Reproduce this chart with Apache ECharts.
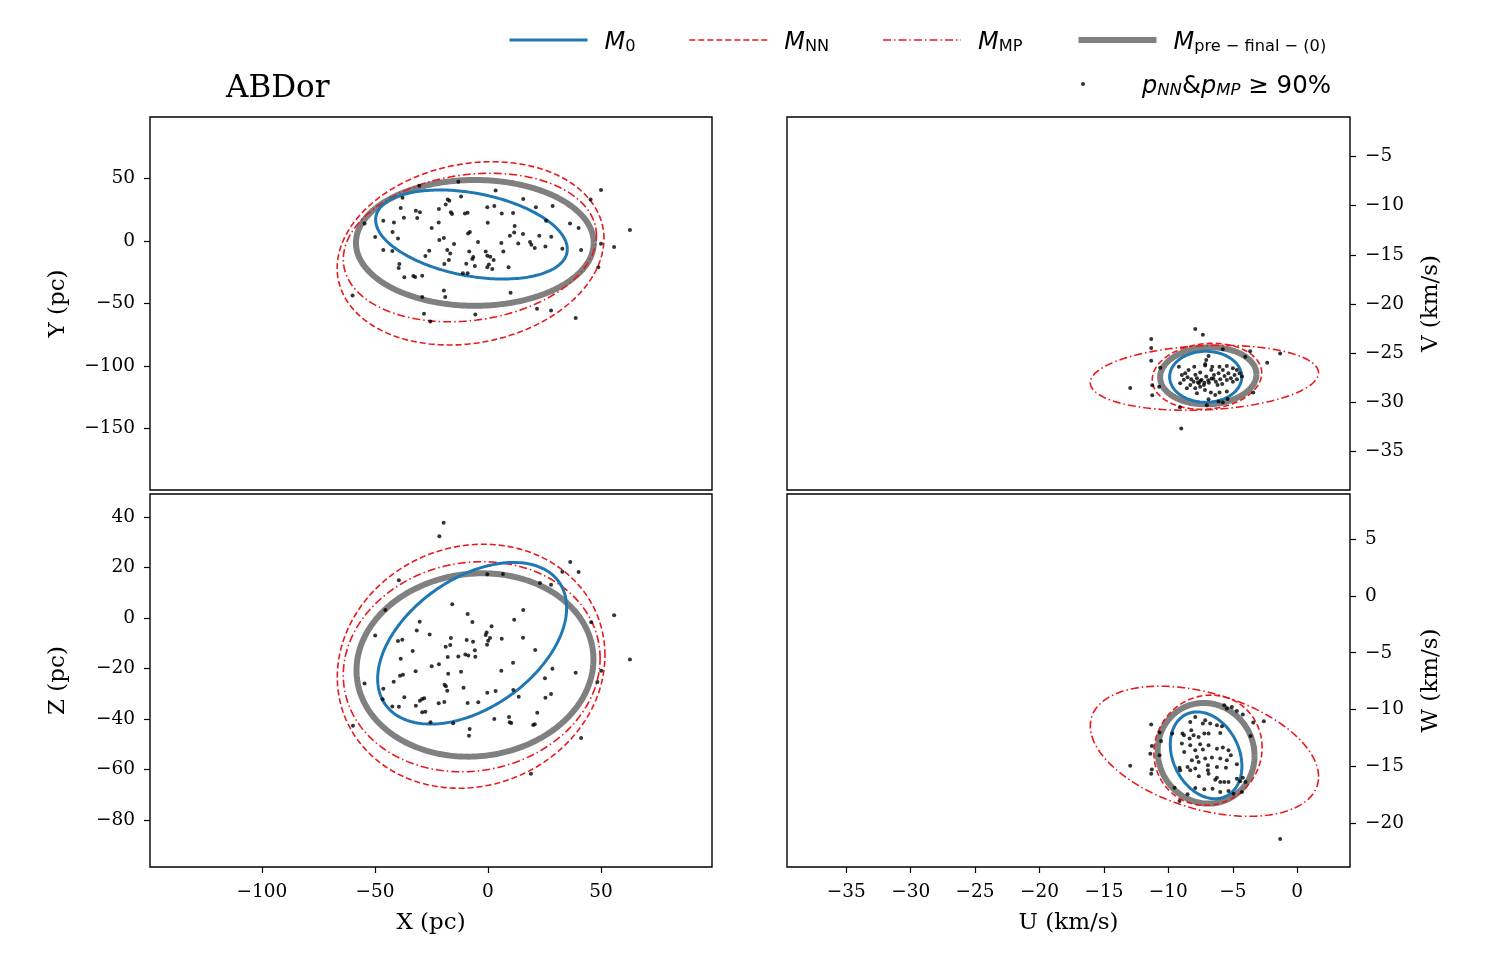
<!DOCTYPE html>
<html>
<head>
<meta charset="utf-8">
<script src="https://cdn.jsdelivr.net/npm/echarts@6/dist/echarts.min.js"></script>
<style>
  html, body { margin: 0; padding: 0; background: #fff; }
  #main { width: 1500px; height: 975px; }
</style>
</head>
<body>
<div id="main"></div>
<script>
// axis limits (data units)
var xRange = [-149.5, 99.1];
var yRange = [-199.2, 99.2];
var zRange = [-98.6, 49.1];
var uRange = [-39.6, 4.1];
var vRange = [-38.9, -1.0];
var wRange = [-23.9, 9.0];

// tick labels
var xTicks = [-100, -50, 0, 50];
var yTicks = [50, 0, -50, -100, -150];
var zTicks = [40, 20, 0, -20, -40, -60, -80];
var uTicks = [-35, -30, -25, -20, -15, -10, -5, 0];
var vTicks = [-5, -10, -15, -20, -25, -30, -35];
var wTicks = [5, 0, -5, -10, -15, -20];

// ellipse order: M0, MNN, MMP, Mpre ; each = [centre x, centre y, sigma x, sigma y, correlation]
var ellipseNames = ['M0', 'MNN', 'MMP', 'Mpre'];
var xyEllipses = [
  [-7.3, 5.2, 42.4, 35.6, -0.33],
  [-7.7, -9.9, 59.0, 73.3, 0.16],
  [-8.0, -5.2, 56.0, 59.4, 0.16],
  [-5.8, -1.5, 52.6, 50.3, 0.0]
];
var xzEllipses = [
  [-7.0, -10.0, 41.8, 32.0, 0.44],
  [-7.45, -19.1, 59.2, 48.3, 0.09],
  [-7.2, -19.3, 56.8, 41.6, 0.08],
  [-5.75, -18.6, 52.4, 36.3, 0.06]
];
var uvEllipses = [
  [-7.1, -27.4, 2.8, 2.59, 0.0],
  [-7.0, -27.35, 4.25, 3.35, 0.1],
  [-7.2, -27.5, 8.86, 3.3, 0.15],
  [-6.9, -27.3, 3.74, 2.9, 0.05]
];
var uwEllipses = [
  [-7.07, -14.05, 2.78, 3.83, -0.25],
  [-6.92, -13.6, 4.2, 4.86, 0.05],
  [-7.2, -13.69, 8.86, 5.74, -0.39],
  [-7.07, -13.87, 3.76, 4.44, -0.05]
];

// stars with p_NN & p_MP >= 90%
var xyPoints = [
  [-13.1,47.4],[-30.4,44.2],[3.4,40.5],[50.0,40.8],[15.6,33.6],[45.4,33.3],[-37.8,34.7],[-17.8,33.3],
  [-17.1,32.2],[-11.9,35.7],[-18.7,29.3],[-0.3,27.0],[2.8,28.0],[-38.6,26.4],[-31.9,24.3],[-30.1,23.0],
  [-21.7,25.6],[-16.4,23.0],[-15.9,21.6],[-10.2,22.1],[-9.0,22.7],[6.1,22.1],[11.1,22.4],[21.2,27.0],
  [28.6,28.0],[-46.3,16.3],[-37.2,18.7],[-31.3,18.4],[-41.6,14.9],[-54.6,14.1],[-21.8,14.9],[-0.1,14.7],
  [25.7,16.3],[36.3,14.1],[40.1,10.4],[11.8,12.0],[-24.9,10.4],[-42.2,7.2],[-8.0,7.2],[-8.8,6.1],
  [11.6,6.9],[9.7,4.2],[15.5,5.6],[22.7,4.2],[28.0,3.5],[62.8,8.8],[-49.9,3.2],[-39.8,2.1],
  [-19.5,2.4],[-21.5,0.8],[-15.0,-2.4],[-4.4,-0.8],[5.9,-1.6],[13.4,-1.9],[18.6,-0.8],[19.2,-2.9],
  [20.7,-5.6],[25.4,-4.3],[32.9,-6.1],[41.2,-7.2],[50.0,-2.1],[55.8,-4.8],[-46.3,-7.2],[-42.3,-8.0],
  [-26.0,-7.7],[-18.0,-7.2],[-8.3,-8.3],[-1.0,-8.3],[-0.3,-11.7],[1.0,-12.5],[2.5,-15.2],[0.4,-18.7],
  [-0.3,-21.0],[1.9,-22.4],[6.8,-8.3],[9.1,-21.0],[-27.7,-12.0],[-16.7,-9.9],[-6.5,-12.8],[-6.9,-14.4],
  [-17.3,-15.2],[-19.3,-18.4],[-39.2,-18.4],[-39.5,-21.6],[-9.6,-18.1],[-5.8,-20.0],[-11.1,-25.8],[-9.0,-25.8],
  [-37.0,-29.0],[-33.0,-28.0],[-32.2,-28.8],[-29.1,-27.7],[-19.5,-39.5],[-18.9,-44.8],[-29.1,-44.8],[-59.9,-43.5],
  [10.0,-41.3],[-28.3,-58.1],[-25.5,-64.3],[-5.6,-58.7],[21.7,-54.1],[27.9,-55.5],[38.8,-61.6],[48.8,-21.0]
];
var xzPoints = [
  [-19.6,37.7],[-21.5,32.4],[36.4,22.2],[32.9,18.3],[40.1,18.2],[-39.4,14.9],[-0.3,17.3],[6.6,17.4],
  [23.0,13.9],[27.9,13.2],[-45.4,3.2],[-15.8,5.4],[15.6,3.2],[-9.0,1.6],[-6.9,-1.6],[-30.2,-1.5],
  [11.6,-0.7],[55.8,1.1],[45.7,-1.7],[1.6,-3.3],[-0.6,-5.7],[-1.0,-6.7],[0.1,-9.0],[0.9,-7.9],
  [-0.4,-10.6],[-31.5,-5.0],[-25.8,-6.5],[-49.9,-6.9],[-16.4,-7.9],[-18.7,-11.4],[-16.7,-10.7],[-9.4,-8.7],
  [-6.6,-9.4],[6.1,-8.2],[15.5,-7.8],[-39.8,-9.1],[-37.9,-8.6],[-33.3,-13.1],[-17.8,-15.4],[-13.1,-15.2],
  [-10.0,-14.5],[-8.7,-14.9],[-5.8,-12.8],[-5.6,-15.3],[20.9,-12.7],[-38.6,-16.1],[-21.7,-18.3],[-24.9,-19.1],
  [11.1,-17.7],[62.8,-16.4],[-32.0,-21.1],[-17.6,-22.1],[-11.9,-21.3],[5.9,-20.9],[28.5,-20.1],[38.8,-21.7],
  [50.1,-20.9],[48.4,-25.3],[-38.9,-22.9],[-37.6,-22.5],[-54.6,-25.9],[-41.7,-25.2],[-19.2,-26.4],[-18.6,-27.0],
  [-18.0,-28.8],[-10.8,-27.6],[25.2,-23.9],[-46.3,-28.0],[11.2,-28.5],[3.4,-28.9],[-0.3,-29.6],[13.6,-31.2],
  [27.9,-30.1],[25.4,-31.6],[-37.0,-31.4],[-29.1,-32.1],[-28.2,-31.8],[-30.1,-32.8],[-46.6,-32.2],[-31.9,-34.7],
  [-21.8,-33.8],[-19.3,-33.3],[-9.0,-33.7],[-4.3,-33.4],[-42.3,-35.0],[-39.4,-35.1],[-29.1,-37.3],[-27.7,-37.1],
  [21.8,-37.5],[2.8,-40.0],[9.3,-39.2],[9.6,-41.3],[10.3,-41.6],[20.7,-42.1],[20.0,-42.4],[-25.4,-41.3],
  [-15.4,-41.7],[-59.7,-42.7],[-8.1,-44.0],[-8.4,-46.6],[41.2,-47.5],[19.0,-61.7]
];
var uvPoints = [
  [-7.91,-22.55],[-7.32,-23.12],[-11.33,-23.56],[-11.33,-24.47],[-11.33,-25.76],[-10.63,-26.47],[-12.96,-28.53],
  [-11.25,-28.26],[-10.71,-28.40],[-11.25,-29.27],[-9.10,-30.49],[-9.00,-32.66],[-1.32,-25.02],[-2.33,-25.96],
  [-3.65,-24.81],[-4.03,-25.35],[-3.41,-29.00],[-7.06,-25.69],[-6.88,-25.28],[-7.14,-26.26],[-6.67,-26.70],
  [-5.77,-24.61],[-9.18,-26.37],[-8.95,-27.21],[-8.69,-27.04],[-8.51,-27.45],[-8.22,-27.65],[-8.04,-27.89],
  [-7.78,-27.55],[-7.63,-28.06],[-7.42,-27.72],[-7.24,-28.23],[-7.06,-27.38],[-6.85,-27.99],[-6.65,-27.58],
  [-6.46,-27.21],[-6.31,-27.89],[-6.10,-27.04],[-5.97,-27.65],[-5.77,-26.70],[-5.64,-27.31],[-5.46,-27.72],
  [-5.34,-27.04],[-5.15,-27.55],[-4.99,-27.89],[-4.86,-27.21],[-4.68,-27.65],[-4.47,-27.04],[-4.29,-27.38],
  [-8.30,-28.23],[-7.91,-28.56],[-7.53,-28.40],[-7.16,-28.73],[-7.78,-29.07],[-6.70,-29.00],[-6.36,-29.24],
  [-6.03,-29.00],[-5.46,-28.90],[-6.18,-28.23],[-5.82,-28.12],[-8.43,-26.70],[-7.99,-26.37],[-7.53,-26.97],
  [-7.14,-26.10],[-6.59,-26.37],[-6.03,-26.37],[-5.46,-26.30],[-4.99,-26.53],[-4.68,-26.70],[-9.08,-28.06],
  [-8.56,-28.56],[-6.88,-29.68],[-6.10,-29.92],[-5.77,-30.02],[-7.01,-30.29],[-5.40,-29.65],[-7.50,-27.80],
  [-7.20,-28.00],[-6.50,-27.60],[-7.90,-27.20],[-8.80,-27.70],[-6.90,-27.75],[-7.70,-27.95]
];
var uwPoints = [
  [-5.66,-9.63],[-5.46,-9.92],[-5.07,-9.78],[-4.68,-10.13],[-4.22,-10.45],[-3.41,-11.16],[-2.59,-11.04],
  [-7.91,-10.66],[-8.30,-11.10],[-7.32,-11.25],[-7.14,-10.95],[-6.75,-11.25],[-6.23,-11.40],[-5.84,-11.48],
  [-11.33,-11.34],[-10.68,-12.04],[-9.70,-12.13],[-8.79,-12.28],[-8.35,-12.57],[-8.04,-12.28],[-7.65,-12.43],
  [-6.88,-12.13],[-5.97,-12.07],[-3.62,-12.34],[-10.57,-12.78],[-11.28,-13.22],[-11.40,-13.90],[-10.68,-14.05],
  [-8.95,-13.01],[-8.30,-13.16],[-7.53,-13.07],[-6.88,-13.16],[-6.23,-13.46],[-5.77,-13.37],[-5.33,-13.60],
  [-7.91,-13.60],[-7.32,-13.54],[-8.77,-13.75],[-7.78,-14.19],[-7.14,-14.34],[-6.62,-14.25],[-5.97,-14.34],
  [-5.46,-14.49],[-8.17,-14.49],[-7.65,-14.64],[-4.68,-14.84],[-5.15,-14.05],[-12.96,-14.96],[-11.28,-15.31],
  [-11.33,-15.67],[-9.13,-15.14],[-8.51,-15.08],[-8.30,-15.37],[-7.91,-15.22],[-6.93,-14.93],[-6.23,-15.08],
  [-5.53,-15.14],[-9.08,-15.37],[-7.63,-15.90],[-6.88,-15.67],[-6.23,-16.02],[-6.93,-15.37],[-6.36,-16.20],
  [-5.97,-16.40],[-5.66,-16.40],[-5.33,-16.40],[-4.68,-16.11],[-4.42,-16.34],[-4.22,-16.02],[-4.01,-16.40],
  [-7.91,-16.93],[-7.21,-17.05],[-6.57,-16.99],[-5.97,-17.29],[-5.33,-17.20],[-4.94,-17.43],[-4.29,-17.29],
  [-9.52,-16.90],[-9.13,-18.08],[-8.51,-17.49],[-1.32,-21.44],[-8.22,-11.84],[-7.21,-12.13],[-8.90,-12.13]
];

var SERIF = 'DejaVu Serif';
var RED = '#e8191c';
var lineStyles = {
  M0: { color: '#1f77b4', width: 3, type: 'solid' },
  MNN: { color: RED, width: 1.6, type: [6, 3] },
  MMP: { color: RED, width: 1.6, type: [8, 3, 1.5, 3] },
  Mpre: { color: '#808080', width: 6, type: 'solid' }
};
var lineZ = { M0: 4, MNN: 3, MMP: 3, Mpre: 2 };

function ellipse(p) {
  var pts = [];
  var s = Math.sqrt(1 - p[4] * p[4]);
  for (var k = 0; k <= 240; k++) {
    var t = 2 * Math.PI * k / 240;
    pts.push([p[0] + p[2] * Math.cos(t), p[1] + p[3] * (p[4] * Math.cos(t) + s * Math.sin(t))]);
  }
  return pts;
}

function minus(v) { return String(v).replace('-', '\u2212'); }

function xAx(gi, range, ticks, name) {
  return {
    type: 'value', gridIndex: gi, min: range[0], max: range[1],
    splitLine: { show: false }, axisLine: { show: false, onZero: false },
    axisTick: { show: !!name, customValues: ticks, length: 6, inside: false, lineStyle: { color: '#000', width: 1.2 } },
    axisLabel: { show: !!name, customValues: ticks, formatter: minus, margin: 16, color: '#000', fontFamily: SERIF, fontSize: 18.5 },
    name: name || '', nameLocation: 'middle', nameGap: 45,
    nameTextStyle: { fontFamily: SERIF, fontSize: 23, color: '#000' }
  };
}
function yAx(gi, range, ticks, name, pos) {
  return {
    type: 'value', gridIndex: gi, min: range[0], max: range[1], position: pos,
    splitLine: { show: false }, axisLine: { show: false, onZero: false },
    axisTick: { show: true, customValues: ticks, length: 6, inside: false, lineStyle: { color: '#000', width: 1.2 } },
    axisLabel: { customValues: ticks, formatter: minus, margin: 15, color: '#000', fontFamily: SERIF, fontSize: 18.5 },
    name: name, nameLocation: 'middle', nameRotate: 90, nameGap: pos === 'left' ? 80 : 70,
    nameTextStyle: { fontFamily: SERIF, fontSize: 23, color: '#000' }
  };
}

var gridBox = { show: true, borderColor: '#000', borderWidth: 1.4, backgroundColor: 'transparent' };
var grids = [
  Object.assign({ left: 150, top: 117, width: 562, height: 373 }, gridBox),
  Object.assign({ left: 150, top: 494, width: 562, height: 373 }, gridBox),
  Object.assign({ left: 787, top: 117, width: 563, height: 373 }, gridBox),
  Object.assign({ left: 787, top: 494, width: 563, height: 373 }, gridBox)
];

var panelEllipses = [xyEllipses, xzEllipses, uvEllipses, uwEllipses];
var panelPoints = [xyPoints, xzPoints, uvPoints, uwPoints];

var series = [];
panelEllipses.forEach(function (ells, gi) {
  ells.forEach(function (p, j) {
    var nm = ellipseNames[j];
    series.push({
      name: nm, type: 'line', xAxisIndex: gi, yAxisIndex: gi,
      data: ellipse(p), symbol: 'none', showSymbol: false, smooth: false,
      lineStyle: lineStyles[nm], itemStyle: { color: lineStyles[nm].color },
      z: lineZ[nm], silent: true, animation: false
    });
  });
  series.push({
    name: 'p90', type: 'scatter', xAxisIndex: gi, yAxisIndex: gi,
    data: panelPoints[gi], symbol: 'circle', symbolSize: 4,
    itemStyle: { color: '#000' }, z: 6, silent: true, animation: false
  });
});

var legendText = {
  M0: '{g|}{i|M}{s|0}',
  MNN: '{g|}{i|M}{s|NN}',
  MMP: '{g|}{i|M}{s|MP}',
  Mpre: '{g|}{i|M}{s|pre \u2212 final \u2212 (0)}',
  p90: '{w|}{i|p}{si|NN}{n|&}{i|p}{si|MP}{n| \u2265 90%}'
};
var legendRich = {
  g: { width: 12 },
  w: { width: 52 },
  i: { fontFamily: 'DejaVu Sans', fontStyle: 'italic', fontSize: 24, color: '#000', lineHeight: 30, verticalAlign: 'bottom' },
  s: { fontFamily: 'DejaVu Sans', fontSize: 16.2, color: '#000', lineHeight: 12, verticalAlign: 'bottom' },
  si: { fontFamily: 'DejaVu Sans', fontStyle: 'italic', fontSize: 16.5, color: '#000', lineHeight: 12, verticalAlign: 'bottom' },
  n: { fontFamily: 'DejaVu Sans', fontSize: 24.5, color: '#000', lineHeight: 30, verticalAlign: 'bottom' }
};
var legendLines = ellipseNames.map(function (nm) {
  return {
    name: nm,
    lineStyle: { color: lineStyles[nm].color, width: lineStyles[nm].width, type: lineStyles[nm].type }
  };
});

var chart = echarts.init(document.getElementById('main'), null, { renderer: 'canvas' });
chart.setOption({
  animation: false,
  backgroundColor: '#fff',
  title: {
    text: 'ABDor', left: 221, top: 68,
    textStyle: { fontFamily: SERIF, fontSize: 31, fontWeight: 'normal', color: '#000' }
  },
  legend: [
    {
      data: legendLines, left: 508, top: 31, padding: 0, orient: 'horizontal',
      itemWidth: 78, itemHeight: 14, itemGap: 53, selectedMode: false,
      itemStyle: { opacity: 0 },
      formatter: function (n) { return legendText[n]; },
      textStyle: { rich: legendRich }
    },
    {
      data: ['p90'], left: 1081, top: 74, padding: 0, itemWidth: 4, itemHeight: 4, selectedMode: false,
      formatter: function (n) { return legendText[n]; },
      textStyle: { rich: legendRich }
    }
  ],
  grid: grids,
  xAxis: [
    xAx(0, xRange, xTicks, null),
    xAx(1, xRange, xTicks, 'X (pc)'),
    xAx(2, uRange, uTicks, null),
    xAx(3, uRange, uTicks, 'U (km/s)')
  ],
  yAxis: [
    yAx(0, yRange, yTicks, 'Y (pc)', 'left'),
    yAx(1, zRange, zTicks, 'Z (pc)', 'left'),
    yAx(2, vRange, vTicks, 'V (km/s)', 'right'),
    yAx(3, wRange, wTicks, 'W (km/s)', 'right')
  ],
  series: series
});
</script>
</body>
</html>
